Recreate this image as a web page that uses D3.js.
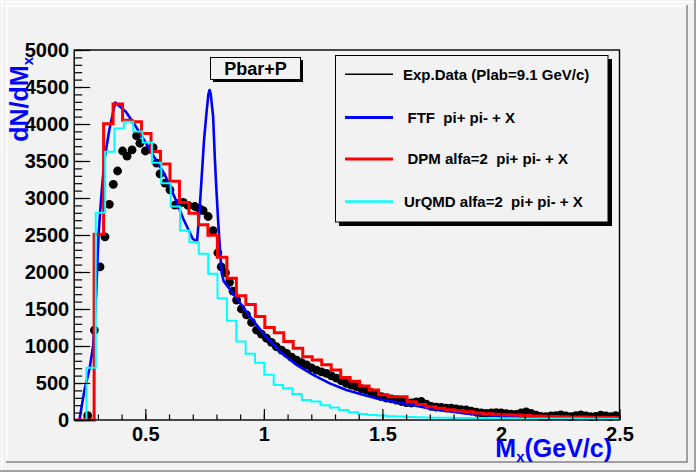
<!DOCTYPE html>
<html>
<head>
<meta charset="utf-8">
<script src="https://cdn.jsdelivr.net/npm/d3@7"></script>
<style>
html, body { margin: 0; padding: 0; background: #f2f2f2; }
svg { display: block; font-family: "Liberation Sans", Arial, Helvetica, sans-serif; font-weight: bold; }
</style>
</head>
<body>
<svg id="chart" width="696" height="472"></svg>
<script>
// ---- data ----

// Exp.Data, [Mx, dN/dMx]
const expPoints = [
    [0.257, 60], [0.285, 1215], [0.309, 2070], [0.330, 2475], [0.348, 2915],
    [0.365, 3185], [0.383, 3365], [0.404, 3635], [0.423, 3565], [0.444, 3650],
    [0.463, 3840], [0.477, 3740], [0.500, 3635], [0.517, 3660], [0.533, 3680],
    [0.548, 3470], [0.562, 3325], [0.583, 3200], [0.604, 3110], [0.625, 2905],
    [0.643, 2930], [0.660, 2940], [0.680, 2900], [0.709, 2885], [0.727, 2860],
    [0.744, 2830], [0.765, 2750], [0.786, 2560], [0.806, 2260], [0.820, 2070],
    [0.838, 1990], [0.855, 1860], [0.870, 1740], [0.885, 1620], [0.905, 1500],
    [0.927, 1420], [0.948, 1320], [0.969, 1215], [0.990, 1160], [1.011, 1105],
    [1.032, 1050], [1.053, 990], [1.075, 945], [1.096, 900], [1.117, 850],
    [1.138, 810], [1.159, 775], [1.180, 745], [1.201, 705], [1.222, 675],
    [1.243, 650], [1.264, 630], [1.285, 595], [1.306, 565], [1.327, 530],
    [1.348, 495], [1.369, 470], [1.390, 450], [1.411, 425], [1.433, 405],
    [1.454, 370], [1.475, 340], [1.496, 315], [1.517, 295], [1.538, 285],
    [1.559, 270], [1.580, 250], [1.601, 235], [1.622, 230], [1.643, 245],
    [1.664, 250], [1.685, 215], [1.706, 185], [1.727, 175], [1.748, 170],
    [1.769, 160], [1.790, 160], [1.811, 150], [1.832, 140], [1.854, 135],
    [1.875, 120], [1.896, 105], [1.917, 95], [1.938, 90], [1.959, 95],
    [1.980, 100], [2.001, 95], [2.022, 85], [2.043, 80], [2.064, 75],
    [2.085, 95], [2.106, 110], [2.127, 90], [2.148, 65], [2.169, 50],
    [2.190, 45], [2.211, 55], [2.232, 60], [2.253, 70], [2.274, 55],
    [2.295, 45], [2.316, 60], [2.337, 70], [2.358, 55], [2.379, 45],
    [2.400, 50], [2.421, 65], [2.442, 55], [2.463, 45], [2.484, 60]
];

// FTF curve, [Mx, dN/dMx]
const ftfPoints = [
    [0.222, 0], [0.243, 400], [0.265, 700], [0.280, 1000], [0.292, 1665],
    [0.303, 2520], [0.313, 2970], [0.327, 3510], [0.348, 3920], [0.373, 4290],
    [0.395, 4230], [0.418, 4165], [0.460, 3965], [0.503, 3740], [0.545, 3510],
    [0.580, 3330], [0.625, 3000], [0.660, 2720], [0.700, 2450], [0.718, 2410],
    [0.728, 2800], [0.738, 3300], [0.748, 3800], [0.758, 4150], [0.766, 4400],
    [0.771, 4460], [0.776, 4400], [0.786, 4100], [0.793, 3550], [0.800, 3100],
    [0.807, 2700], [0.815, 2300], [0.822, 1990], [0.830, 1880], [0.885, 1645],
    [0.941, 1400], [0.997, 1170], [1.067, 925], [1.138, 745], [1.208, 610],
    [1.278, 495], [1.348, 405], [1.418, 340], [1.489, 280], [1.560, 240],
    [1.630, 200], [1.710, 150], [1.780, 120], [1.850, 90], [1.920, 70],
    [1.990, 54], [2.080, 40], [2.170, 28], [2.250, 20], [2.300, 15]
];

// DPM histogram
const dpmFirstEdge = 0.204;
const dpmBinWidth = 0.04;
const dpmCounts = [
    0, 0, 2510, 4005, 4270, 4050, 4030, 3870, 3630, 3460,
    3225, 2940, 2795, 2640, 2495, 2200, 1915, 1678, 1560, 1400,
    1250, 1180, 1060, 970, 855, 810, 745, 675, 575, 525,
    460, 405, 340, 315, 315, 245, 210, 180, 158, 138,
    125, 112, 95, 85, 78, 72, 66, 60, 55, 52,
    48, 45, 42, 40, 38, 36, 34, 32
];

// UrQMD histogram
const urqmdFirstEdge = 0.212;
const urqmdBinWidth = 0.0395;
const urqmdCounts = [
    0, 705, 2800, 3625, 3940, 4030, 3900, 3750, 3475, 3200,
    2885, 2560, 2405, 2245, 1975, 1645, 1340, 1062, 895, 772,
    610, 472, 430, 350, 270, 250, 200, 170, 135, 105,
    80, 68, 60, 52, 46, 42, 38, 35, 32, 30,
    28, 26, 25, 24, 23, 22, 22, 21, 21, 20,
    20, 20, 19, 19, 18, 18, 18, 18
];

const xTicks = [0.5, 1, 1.5, 2, 2.5];
const xTickLabels = ["0.5", "1", "1.5", "2", "2.5"];
const yTicks = [0, 500, 1000, 1500, 2000, 2500, 3000, 3500, 4000, 4500, 5000];
const yTickLabels = ["0", "500", "1000", "1500", "2000", "2500", "3000", "3500", "4000", "4500", "5000"];

const legendLabels = ["Exp.Data (Plab=9.1 GeV/c)", "FTF  pi+ pi- + X", "DPM alfa=2  pi+ pi- + X", "UrQMD alfa=2  pi+ pi- + X"];
const titleText = "Pbar+P";

// ---- layout ----
const W = 696, H = 472;
const fontFamily = '"Liberation Sans", Arial, Helvetica, sans-serif';
const bg = "#f2f2f2";
const bevel = "#a0a0a0";
const frame = { left: 74.2, right: 619.5, top: 50, bottom: 420 };

const xScale = d3.scaleLinear().domain([0.2, 2.5]).range([frame.left, frame.right]);
const yScale = d3.scaleLinear().domain([0, 5000]).range([frame.bottom, frame.top]);

const svg = d3.select("#chart");

// canvas + pad background with ROOT-style bevels
svg.append("rect").attr("width", W).attr("height", H).attr("fill", bg);
svg.append("rect").attr("x", 0).attr("y", 1).attr("width", 694).attr("height", 1.5).attr("fill", "#fff");
svg.append("rect").attr("x", 1).attr("y", 0).attr("width", 1.5).attr("height", 470).attr("fill", "#fff");
svg.append("rect").attr("x", 694).attr("y", 0).attr("width", 2).attr("height", H).attr("fill", bevel);
svg.append("rect").attr("x", 0).attr("y", 470).attr("width", W).attr("height", 2).attr("fill", bevel);
svg.append("rect").attr("x", 6).attr("y", 5).attr("width", 680).attr("height", 1.5).attr("fill", "#fff");
svg.append("rect").attr("x", 6).attr("y", 5).attr("width", 1.5).attr("height", 456).attr("fill", "#fff");
svg.append("rect").attr("x", 686).attr("y", 5).attr("width", 2).attr("height", 458).attr("fill", bevel);
svg.append("rect").attr("x", 6).attr("y", 461).attr("width", 682).attr("height", 2).attr("fill", bevel);

// clip for the series
svg.append("clipPath").attr("id", "plot-clip")
    .append("rect")
    .attr("x", frame.left)
    .attr("y", frame.top)
    .attr("width", frame.right - frame.left)
    .attr("height", frame.bottom - frame.top + 2);

const plot = svg.append("g").attr("clip-path", "url(#plot-clip)");

// Exp.Data markers
plot.selectAll(".exp")
    .data(expPoints)
    .enter()
    .append("circle")
    .attr("class", "exp")
    .attr("cx", d => xScale(d[0]))
    .attr("cy", d => yScale(d[1]))
    .attr("r", 4.4)
    .attr("fill", "#000");

// FTF curve
const curve = d3.line()
    .x(d => xScale(d[0]))
    .y(d => yScale(d[1]));

plot.append("path")
    .datum(ftfPoints)
    .attr("fill", "none")
    .attr("stroke", "#0000ff")
    .attr("stroke-width", 2.6)
    .attr("stroke-linejoin", "round")
    .attr("d", curve);

// histogram outline, ROOT style
function histPoints(firstEdge, width, counts) {
    const pts = [[firstEdge, 0]];
    counts.forEach((c, i) => pts.push([firstEdge + i * width, c]));
    const lastEdge = firstEdge + counts.length * width;
    pts.push([lastEdge, counts[counts.length - 1]]);
    pts.push([lastEdge, 0]);
    return pts;
}

const step = d3.line()
    .x(d => xScale(d[0]))
    .y(d => yScale(d[1]))
    .curve(d3.curveStepAfter);

plot.append("path")
    .datum(histPoints(dpmFirstEdge, dpmBinWidth, dpmCounts))
    .attr("fill", "none")
    .attr("stroke", "#ff0000")
    .attr("stroke-width", 3)
    .attr("d", step);

plot.append("path")
    .datum(histPoints(urqmdFirstEdge, urqmdBinWidth, urqmdCounts))
    .attr("fill", "none")
    .attr("stroke", "#00ffff")
    .attr("stroke-width", 2)
    .attr("d", step);

// Axes
function styleAxis(g) {
    g.attr("font-family", fontFamily).attr("font-size", 20);
    g.select(".domain").remove();
    g.selectAll(".tick line").attr("stroke", "#000").attr("stroke-width", 1.2);
    g.selectAll(".tick text").attr("fill", "#000");
}

svg.append("g")
    .attr("transform", `translate(${frame.left},0)`)
    .call(d3.axisLeft(yScale).tickValues(d3.range(0, 5001, 100)).tickSize(-8).tickFormat(""))
    .call(styleAxis);

svg.append("g")
    .attr("transform", `translate(${frame.left},0)`)
    .call(d3.axisLeft(yScale)
        .tickValues(yTicks)
        .tickFormat((d, i) => yTickLabels[i])
        .tickSize(-16)
        .tickPadding(5))
    .call(styleAxis);

svg.append("g")
    .attr("transform", `translate(0,${frame.bottom})`)
    .call(d3.axisBottom(xScale).tickValues(d3.range(0.3, 2.5001, 0.1)).tickSize(-5.5).tickFormat(""))
    .call(styleAxis);

svg.append("g")
    .attr("transform", `translate(0,${frame.bottom})`)
    .call(d3.axisBottom(xScale)
        .tickValues(xTicks)
        .tickFormat((d, i) => xTickLabels[i])
        .tickSize(-11)
        .tickPadding(6.5))
    .call(styleAxis);

// frame
svg.append("rect")
    .attr("x", frame.left)
    .attr("y", frame.top)
    .attr("width", frame.right - frame.left)
    .attr("height", frame.bottom - frame.top)
    .attr("fill", "none")
    .attr("stroke", "#000")
    .attr("stroke-width", 1.4);

// axis titles
const yTitle = svg.append("text")
    .attr("transform", "translate(28,57) rotate(-90)")
    .attr("text-anchor", "end")
    .attr("font-size", 25)
    .attr("fill", "#0000ff");
yTitle.append("tspan").text("dN/dM");
yTitle.append("tspan").attr("font-size", 15).attr("dy", 5).text("x");

const xTitle = svg.append("text")
    .attr("x", 612)
    .attr("y", 457)
    .attr("text-anchor", "end")
    .attr("font-size", 25)
    .attr("fill", "#0000ff");
xTitle.append("tspan").text("M");
xTitle.append("tspan").attr("font-size", 15).attr("dy", 5).text("x");
xTitle.append("tspan").attr("dy", -5).text("(GeV/c)");

// title box
svg.append("rect").attr("x", 213).attr("y", 60).attr("width", 90).attr("height", 22).attr("fill", "#000");
svg.append("rect").attr("x", 210.5).attr("y", 57.5).attr("width", 90).attr("height", 22)
    .attr("fill", bg).attr("stroke", "#000").attr("stroke-width", 1);
svg.append("text")
    .attr("x", 255.5)
    .attr("y", 75)
    .attr("text-anchor", "middle")
    .attr("font-size", 18)
    .attr("fill", "#000")
    .text(titleText);

// legend
const legendColors = ["#000000", "#0000ff", "#ff0000", "#00ffff"];
const legendWidths = [1.5, 3, 3, 2.5];
const legendRowY = [74.3, 117.5, 159, 201.5];
const legendTextX = [403, 407.5, 407.5, 404];

svg.append("rect").attr("x", 339).attr("y", 59).attr("width", 273).attr("height", 167).attr("fill", "#000");
svg.append("rect").attr("x", 335.5).attr("y", 55.5).attr("width", 272.5).attr("height", 166.5)
    .attr("fill", bg).attr("stroke", "#000").attr("stroke-width", 1);

const rows = svg.selectAll(".legend-row")
    .data(legendLabels)
    .enter()
    .append("g")
    .attr("class", "legend-row");

rows.append("line")
    .attr("x1", 345)
    .attr("x2", 393)
    .attr("y1", (d, i) => legendRowY[i])
    .attr("y2", (d, i) => legendRowY[i])
    .attr("stroke", (d, i) => legendColors[i])
    .attr("stroke-width", (d, i) => legendWidths[i]);

rows.append("text")
    .attr("x", (d, i) => legendTextX[i])
    .attr("y", (d, i) => legendRowY[i] + 5.4)
    .attr("font-size", 15)
    .attr("fill", "#000")
    .style("white-space", "pre")
    .text(d => d);
</script>
</body>
</html>
